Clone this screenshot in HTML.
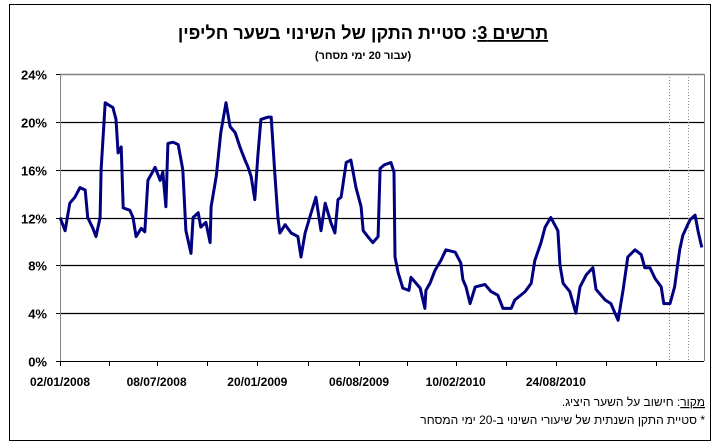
<!DOCTYPE html>
<html><head><meta charset="utf-8"><style>
html,body{margin:0;padding:0;background:#fff;}
body{width:720px;height:443px;overflow:hidden;position:relative;font-family:"Liberation Sans","Noto Sans CJK JP",sans-serif;}
svg{position:absolute;left:0;top:0;}
</style></head><body>
<svg id="chart" width="720" height="443">
<rect x="9.5" y="4.5" width="701" height="436" fill="#fff" stroke="#000" stroke-width="1"/>
<text x="363" y="39" text-anchor="middle" direction="rtl" font-size="18" font-weight="bold" font-family="Liberation Sans, Noto Sans CJK JP, sans-serif"><tspan text-decoration="underline">תרשים 3</tspan>: סטיית התקן של השינוי בשער חליפין</text>
<text x="363" y="59" text-anchor="middle" direction="rtl" font-size="11" font-weight="bold" font-family="Liberation Sans, Noto Sans CJK JP, sans-serif">(עבור 20 ימי מסחר)</text>
<g id="grid"></g>
<g id="axes"></g>
<g id="series"></g>
<text x="705" y="406" text-anchor="start" direction="rtl" font-size="12" font-family="Liberation Sans, Noto Sans CJK JP, sans-serif"><tspan text-decoration="underline">מקור</tspan>: חישוב על השער היציג.</text>
<text x="705" y="424" text-anchor="start" direction="rtl" font-size="12" font-family="Liberation Sans, Noto Sans CJK JP, sans-serif">* סטיית התקן השנתית של שיעורי השינוי ב-20 ימי המסחר</text>
</svg>
<script>
const yTicks = [0, 4, 8, 12, 16, 20, 24];
const xTickDays = [0, 96, 188, 286, 384, 483, 582, 676, 770, 867, 965, 1063, 1160];
const xLabelDays = [0, 188, 384, 582, 770, 965];
const xLabels = ["02/01/2008", "08/07/2008", "20/01/2009", "06/08/2009", "10/02/2010", "24/08/2010"];
const markerDays = [1185, 1222];
const days = [0,10,19,29,39,49,54,64,70,78,80,88,95,103,109,113,119,123,136,142,148,158,165,171,185,195,200,206,210,220,230,239,245,255,259,269,274,284,292,294,304,313,323,331,341,350,360,366,372,379,385,391,405,411,418,424,428,438,450,463,469,477,486,498,508,516,527,535,541,547,557,566,576,586,590,599,609,619,623,631,644,650,652,658,667,679,683,701,710,712,720,730,741,751,769,780,784,790,798,808,827,839,852,862,878,885,905,917,924,936,944,955,969,973,979,992,1004,1012,1024,1037,1043,1061,1072,1086,1096,1105,1119,1131,1138,1148,1158,1170,1175,1187,1196,1206,1212,1226,1236,1242,1249];
const values = [12.0,10.9,13.2,13.7,14.5,14.3,12.0,11.1,10.4,12.0,16.0,21.6,21.4,21.2,20.2,17.4,17.9,12.8,12.6,12.0,10.4,11.1,10.8,15.1,16.2,15.1,15.8,12.9,18.2,18.3,18.1,16.0,10.9,9.0,12.0,12.4,11.2,11.6,9.9,12.9,15.4,19.1,21.6,19.6,19.1,17.9,16.8,16.2,15.4,13.5,17.1,20.2,20.4,20.4,15.7,12.0,10.7,11.4,10.7,10.4,8.7,10.7,12.0,13.7,10.9,13.2,11.6,10.7,13.5,13.7,16.6,16.8,14.5,12.9,10.9,10.4,9.9,10.4,16.1,16.4,16.6,15.8,8.7,7.4,6.1,5.9,7.0,6.1,4.4,5.9,6.5,7.6,8.4,9.3,9.1,8.2,6.8,6.2,4.8,6.2,6.4,5.8,5.5,4.4,4.4,5.1,5.8,6.5,8.4,9.9,11.2,12.0,10.9,8.0,6.5,5.8,4.0,6.2,7.2,7.8,6.0,5.1,4.8,3.4,6.0,8.7,9.3,8.9,7.8,7.8,6.9,6.2,4.8,4.8,6.2,9.3,10.5,11.8,12.2,10.8,9.5];

const NS = "http://www.w3.org/2000/svg";
const X0 = 60, X1 = 704, Y0 = 361, Y1 = 74;
function xScale(d){ return 60 + d / 1.946; }
function yScale(v){ return Y0 - (v - 0) / 24 * (Y0 - Y1); }
function mk(tag, attrs, parent){
  const el = document.createElementNS(NS, tag);
  for (const k in attrs) el.setAttribute(k, attrs[k]);
  parent.appendChild(el);
  return el;
}
const grid = document.getElementById('grid');
const axes = document.getElementById('axes');
const series = document.getElementById('series');

yTicks.forEach(t => {
  const y = Math.round(yScale(t)) + 0.5;
  if (t > 0) {
    const gl = mk('line', {x1:X0, x2:X1, y1:y, y2:y, stroke:'#000', 'stroke-width':1.3}, grid);
    
    
  }
  const tk = mk('line', {x1:X0-4, x2:X0, y1:y, y2:y, stroke:'#000'}, axes);
  
  
  const lb = mk('text', {x:47, y:y+5, 'text-anchor':'end', 'font-size':13, 'font-weight':'bold', 'font-family':'Liberation Sans, sans-serif'}, axes);
  lb.textContent = t + '%';
  
  
});

markerDays.forEach(d => {
  const x = Math.round(xScale(d)) + 0.5;
  const ml = mk('line', {x1:x, x2:x, y1:Y1, y2:Y0, stroke:'#888', 'stroke-width':1, 'stroke-dasharray':'1,2'}, grid);
  
  
});

const la = mk('line', {x1:X0+0.5, x2:X0+0.5, y1:Y1, y2:Y0, stroke:'#808080'}, axes);


const ra = mk('line', {x1:X1+0.5, x2:X1+0.5, y1:Y1, y2:Y0, stroke:'#808080'}, axes);


const ta = mk('line', {x1:X0, x2:X1, y1:Y1+0.5, y2:Y1+0.5, stroke:'#808080'}, axes);


const xa = mk('line', {x1:X0, x2:X1, y1:Y0+0.5, y2:Y0+0.5, stroke:'#000'}, axes);



xTickDays.forEach(d => {
  const x = Math.round(xScale(d)) + 0.5;
  const tk = mk('line', {x1:x, x2:x, y1:Y0, y2:Y0+5, stroke:'#000'}, axes);
  
  
});
xLabelDays.forEach((d, i) => {
  const lb = mk('text', {x:xScale(d), y:386, 'text-anchor':'middle', 'font-size':12, 'font-weight':'bold', 'font-family':'Liberation Sans, sans-serif'}, axes);
  lb.textContent = xLabels[i];
  
  
});

const pts = days.map((d, i) => xScale(d).toFixed(1) + ',' + yScale(values[i]).toFixed(1)).join(' ');
const pl = mk('polyline', {points:pts, fill:'none', stroke:'#000080', 'stroke-width':3, 'stroke-linejoin':'round'}, series);


</script>
</body></html>
